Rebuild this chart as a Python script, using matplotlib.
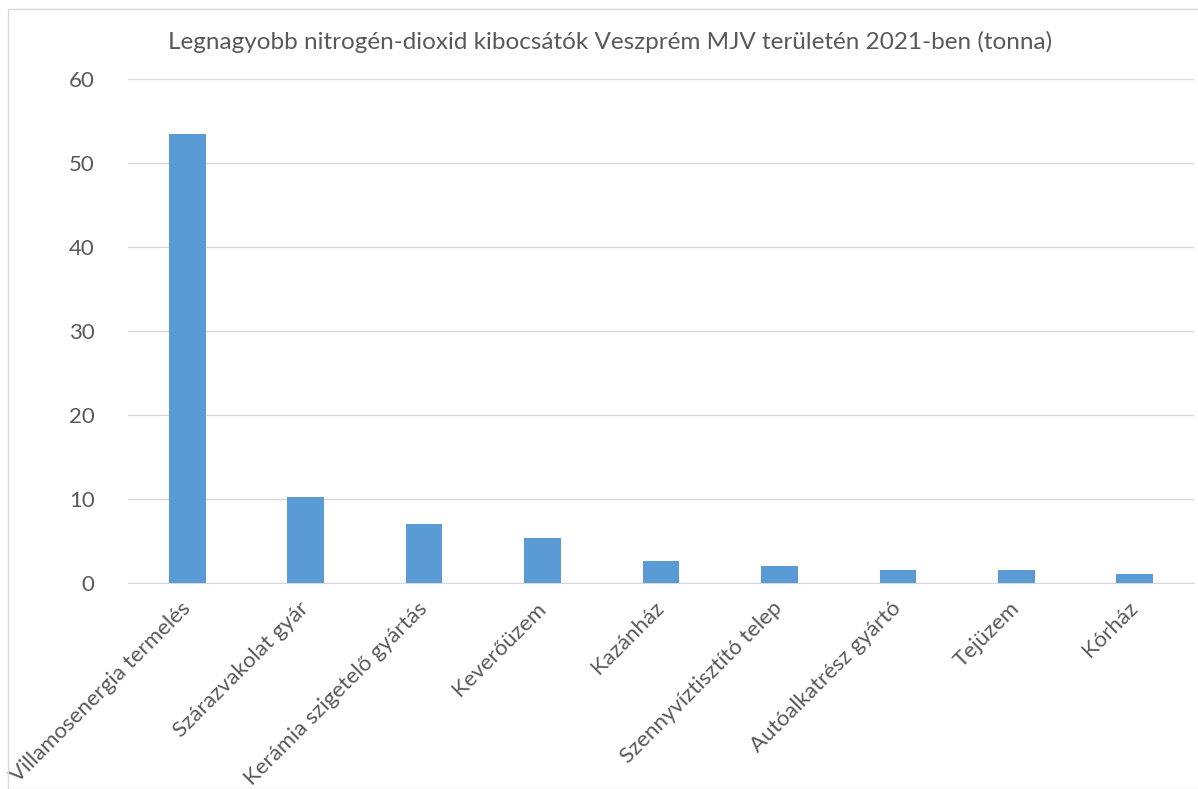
import matplotlib
matplotlib.use("Agg")
import matplotlib.pyplot as plt
from matplotlib.patches import Rectangle

categories = ["Villamosenergia termelés", "Szárazvakolat gyár", "Kerámia szigetelő gyártás",
              "Keverőüzem", "Kazánház", "Szennyvíztisztító telep", "Autóalkatrész gyártó",
              "Tejüzem", "Kórház"]
values = [53.5, 10.2, 7.0, 5.4, 2.6, 2.05, 1.6, 1.5, 1.1]
yticks = [0, 10, 20, 30, 40, 50, 60]
title = "Legnagyobb nitrogén-dioxid kibocsátók Veszprém MJV területén 2021-ben (tonna)"

plt.rcParams['font.family'] = ['Lato', 'DejaVu Sans']
W, H = 1198, 789
fig = plt.figure(figsize=(W/100, H/100), dpi=100)
fig.patches.append(Rectangle((8/W, 0), 1.2, 1 - 9/H, transform=fig.transFigure,
                             fill=False, edgecolor='#d9d9d9', linewidth=1))
ax = fig.add_axes([128/W, 206/H, (1194-128)/W, (583-79)/H])
x = range(len(categories))
ax.bar(x, values, width=0.31, color='#5b9bd5', zorder=3)
ax.set_xlim(-0.5, len(categories)-0.5)
ax.set_ylim(0, 60)
ax.set_yticks(yticks)
ax.set_yticklabels([str(v) for v in yticks])
ax.yaxis.grid(True, color='#d9d9d9', linewidth=1)
ax.set_axisbelow(True)
for s in ['top', 'right', 'left']:
    ax.spines[s].set_visible(False)
ax.spines['bottom'].set_color('#d9d9d9')
ax.tick_params(axis='both', length=0, labelsize=16, colors='#595959')
ax.tick_params(axis='y', pad=24)
ax.set_xticks(list(x))
ax.set_xticklabels(categories, rotation=45, ha='right', rotation_mode='anchor', va='center')
ax.tick_params(axis='x', pad=16)
fig.text(610/W, 1 - 42/H, title, ha='center', va='center', fontsize=17.5, color='#595959')
fig.savefig('out.png', dpi=100)
